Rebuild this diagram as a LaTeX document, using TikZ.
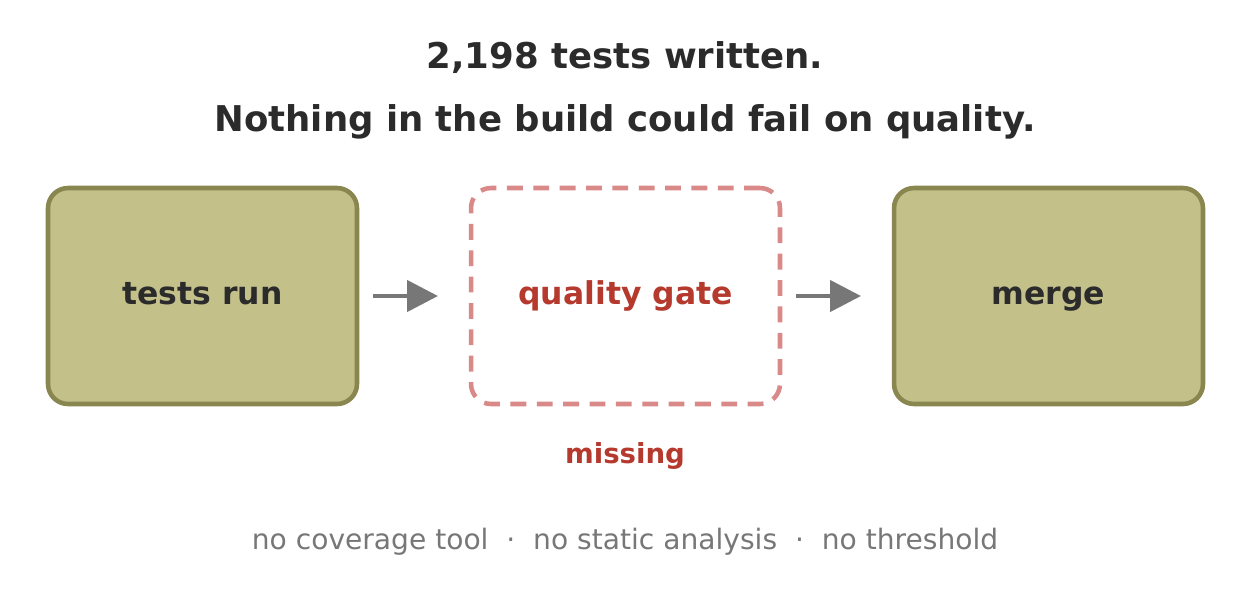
\documentclass[tikz,border=0pt]{standalone}
\usepackage{fontspec}
\setmainfont{DejaVu Sans}
\usetikzlibrary{arrows.meta}
\definecolor{boxfill}{HTML}{C4C08A}
\definecolor{boxline}{HTML}{8A864F}
\definecolor{gateline}{HTML}{D98A88}
\definecolor{gatetext}{HTML}{B5392D}
\definecolor{ink}{HTML}{2B2B2B}
\definecolor{muted}{HTML}{777777}
\tikzset{
  stage/.style = {draw = boxline, fill = boxfill, line width = 2.6pt, rounded corners = 0.4cm,
    minimum width = 6.18cm, minimum height = 4.32cm, text = ink, text height = 0.92em, text depth = 0em,
    font = \fontsize{17.9}{20}\selectfont\bfseries},
  gate/.style = {draw = gateline, dashed, dash pattern = on 9pt off 6pt, line width = 2.6pt, rounded corners = 0.4cm,
    minimum width = 6.18cm, minimum height = 4.32cm, text = gatetext, text height = 0.92em, text depth = 0em,
    font = \fontsize{17.9}{20}\selectfont\bfseries},
  flow/.style = {muted, line width = 2.6pt, -{Triangle[length = 0.62cm, width = 0.62cm]}}
}
\begin{document}
\begin{tikzpicture}[x = 0.02cm, y = -0.02cm]
\useasboundingbox (0, 0) rectangle (1251, 596);

	% Title

	\node (title1) [ink, font = \fontsize{20.2}{24}\selectfont\bfseries] at (625, 58) {2,198 tests written.};
	\node (title2) [ink, font = \fontsize{20.2}{24}\selectfont\bfseries] at (625, 122) {Nothing in the build could fail on quality.};

	% Stages

	\node (run) [stage] at (202.5, 296) {tests run};
	\node (gate) [gate] at (625.5, 296) {quality gate};
	\node (merge) [stage] at (1048.5, 296) {merge};

	% Arrows

	\coordinate (a1) at (373, 296); \coordinate (b1) at (438, 296);
	\coordinate (a2) at (796, 296); \coordinate (b2) at (861, 296);
	\draw [flow] (a1) -- (b1);
	\draw [flow] (a2) -- (b2);

	% Notes

	\node (missing) [gatetext, font = \fontsize{15.7}{18}\selectfont\bfseries] at (625, 456) {missing};
	\node (tools) [muted, font = \fontsize{16}{18}\selectfont] at (625, 542)
		{no coverage tool \ · \ no static analysis \ · \ no threshold};

\end{tikzpicture}
\end{document}
